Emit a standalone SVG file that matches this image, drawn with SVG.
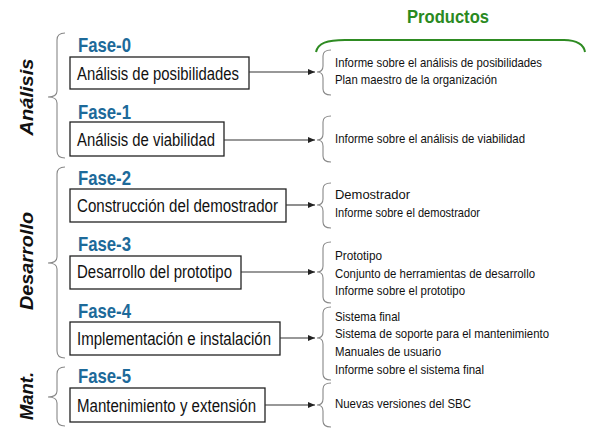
<svg xmlns="http://www.w3.org/2000/svg" width="596" height="435" viewBox="0 0 596 435">
<defs>
<marker id="arr" markerWidth="8" markerHeight="8" refX="7" refY="3.5" orient="auto" markerUnits="userSpaceOnUse">
<path d="M0,0.5 L7,3.5 L0,6.5 Z" fill="#222"/>
</marker>
<style>
.box{fill:#fff;stroke:#222;stroke-width:1.3}
.fase{font-family:"Liberation Sans",Arial,sans-serif;font-weight:bold;font-size:21px;fill:#1d6a9a}
.bt{font-family:"Liberation Sans",Arial,sans-serif;font-size:17.5px;fill:#111}
.pt{font-family:"Liberation Sans",Arial,sans-serif;font-size:13px;fill:#111}
.grp{font-family:"Liberation Sans",Arial,sans-serif;font-weight:bold;font-style:italic;font-size:18px;fill:#111}
.brace{fill:none;stroke:#888;stroke-width:1.1}
.conn{fill:none;stroke:#333;stroke-width:1.1}
.title{font-family:"Liberation Sans",Arial,sans-serif;font-weight:bold;font-size:18px;fill:#2a8a1f}
</style>
</defs>
<rect width="596" height="435" fill="#fff"/>

<g id="productos">
<text class="title" x="407" y="23" textLength="82" lengthAdjust="spacingAndGlyphs">Productos</text>
<path d="M316,52 C318,43 327,40 345,40 L564,40 C577,40 584,45 585,52" fill="none" stroke="#2e8b22" stroke-width="2"/>
</g>

<g id="grupos">
<path class="brace" d="M65,33 Q57,33 57,40 L57,91 Q57,97 48,97 Q57,97 57,103 L57,151 Q57,158 65,158"/>
<text class="grp" transform="translate(33,97) rotate(-90)" text-anchor="middle" textLength="77" lengthAdjust="spacingAndGlyphs">Análisis</text>
<path class="brace" d="M65,167 Q57,167 57,174 L57,257 Q57,263 48,263 Q57,263 57,269 L57,351 Q57,358 65,358"/>
<text class="grp" transform="translate(33,261) rotate(-90)" text-anchor="middle" textLength="98" lengthAdjust="spacingAndGlyphs">Desarrollo</text>
<path class="brace" d="M65,367 Q57,367 57,374 L57,391 Q57,397 48,397 Q57,397 57,403 L57,419 Q57,426 65,426"/>
<text class="grp" transform="translate(33,396) rotate(-90)" text-anchor="middle" textLength="48" lengthAdjust="spacingAndGlyphs">Mant.</text>
</g>

<g id="fase0">
<text class="fase" x="78" y="52" textLength="53" lengthAdjust="spacingAndGlyphs">Fase-0</text>
<rect class="box" x="70" y="57" width="179" height="32"/>
<text class="bt" x="77" y="80" textLength="162" lengthAdjust="spacingAndGlyphs">Análisis de posibilidades</text>
</g>
<g id="fase1">
<text class="fase" x="78" y="119" textLength="53" lengthAdjust="spacingAndGlyphs">Fase-1</text>
<rect class="box" x="70" y="122" width="154" height="34"/>
<text class="bt" x="77" y="146" textLength="138" lengthAdjust="spacingAndGlyphs">Análisis de viabilidad</text>
</g>
<g id="fase2">
<text class="fase" x="78" y="185" textLength="53" lengthAdjust="spacingAndGlyphs">Fase-2</text>
<rect class="box" x="70" y="189" width="216" height="33"/>
<text class="bt" x="77" y="212" textLength="201" lengthAdjust="spacingAndGlyphs">Construcción del demostrador</text>
</g>
<g id="fase3">
<text class="fase" x="78" y="251" textLength="53" lengthAdjust="spacingAndGlyphs">Fase-3</text>
<rect class="box" x="70" y="256" width="171" height="33"/>
<text class="bt" x="77" y="278" textLength="155" lengthAdjust="spacingAndGlyphs">Desarrollo del prototipo</text>
</g>
<g id="fase4">
<text class="fase" x="78" y="318" textLength="53" lengthAdjust="spacingAndGlyphs">Fase-4</text>
<rect class="box" x="70" y="322" width="210" height="33"/>
<text class="bt" x="77" y="345" textLength="194" lengthAdjust="spacingAndGlyphs">Implementación e instalación</text>
</g>
<g id="fase5">
<text class="fase" x="78" y="383" textLength="53" lengthAdjust="spacingAndGlyphs">Fase-5</text>
<rect class="box" x="70" y="388" width="195" height="34"/>
<text class="bt" x="77" y="412" textLength="179" lengthAdjust="spacingAndGlyphs">Mantenimiento y extensión</text>
</g>

<g id="connectors">
<line class="conn" x1="249" y1="72" x2="315" y2="72" marker-end="url(#arr)"/>
<line class="conn" x1="224" y1="140" x2="315" y2="140" marker-end="url(#arr)"/>
<line class="conn" x1="286" y1="205" x2="315" y2="205" marker-end="url(#arr)"/>
<line class="conn" x1="241" y1="272" x2="315" y2="272" marker-end="url(#arr)"/>
<line class="conn" x1="280" y1="338" x2="315" y2="338" marker-end="url(#arr)"/>
<line class="conn" x1="265" y1="405" x2="315" y2="405" marker-end="url(#arr)"/>
</g>

<g id="prod0">
<path class="brace" d="M331,50 Q323,50 323,56 L323,66 Q323,72 317,72 Q323,72 323,78 L323,89 Q323,95 331,95"/>
<text class="pt" x="335" y="67" textLength="207" lengthAdjust="spacingAndGlyphs">Informe sobre el análisis de posibilidades</text>
<text class="pt" x="335" y="84" textLength="162" lengthAdjust="spacingAndGlyphs">Plan maestro de la organización</text>
</g>
<g id="prod1">
<path class="brace" d="M331,116 Q323,116 323,122 L323,134 Q323,140 317,140 Q323,140 323,146 L323,156 Q323,162 331,162"/>
<text class="pt" x="335" y="143" textLength="190" lengthAdjust="spacingAndGlyphs">Informe sobre el análisis de viabilidad</text>
</g>
<g id="prod2">
<path class="brace" d="M331,183 Q323,183 323,189 L323,199 Q323,205 317,205 Q323,205 323,211 L323,222 Q323,228 331,228"/>
<text class="pt" x="335" y="199" textLength="75" lengthAdjust="spacingAndGlyphs">Demostrador</text>
<text class="pt" x="335" y="217" textLength="145" lengthAdjust="spacingAndGlyphs">Informe sobre el demostrador</text>
</g>
<g id="prod3">
<path class="brace" d="M331,242 Q323,242 323,248 L323,266 Q323,272 317,272 Q323,272 323,278 L323,297 Q323,303 331,303"/>
<text class="pt" x="335" y="260" textLength="47" lengthAdjust="spacingAndGlyphs">Prototipo</text>
<text class="pt" x="335" y="278" textLength="200" lengthAdjust="spacingAndGlyphs">Conjunto de herramientas de desarrollo</text>
<text class="pt" x="335" y="295" textLength="130" lengthAdjust="spacingAndGlyphs">Informe sobre el prototipo</text>
</g>
<g id="prod4">
<path class="brace" d="M331,307 Q323,307 323,313 L323,332 Q323,338 317,338 Q323,338 323,344 L323,374 Q323,380 331,380"/>
<text class="pt" x="335" y="321" textLength="65" lengthAdjust="spacingAndGlyphs">Sistema final</text>
<text class="pt" x="335" y="338" textLength="214" lengthAdjust="spacingAndGlyphs">Sistema de soporte para el mantenimiento</text>
<text class="pt" x="335" y="356" textLength="106" lengthAdjust="spacingAndGlyphs">Manuales de usuario</text>
<text class="pt" x="335" y="374" textLength="149" lengthAdjust="spacingAndGlyphs">Informe sobre el sistema final</text>
</g>
<g id="prod5">
<path class="brace" d="M331,383 Q323,383 323,389 L323,399 Q323,405 317,405 Q323,405 323,411 L323,421 Q323,427 331,427"/>
<text class="pt" x="335" y="408" textLength="136" lengthAdjust="spacingAndGlyphs">Nuevas versiones del SBC</text>
</g>
</svg>
